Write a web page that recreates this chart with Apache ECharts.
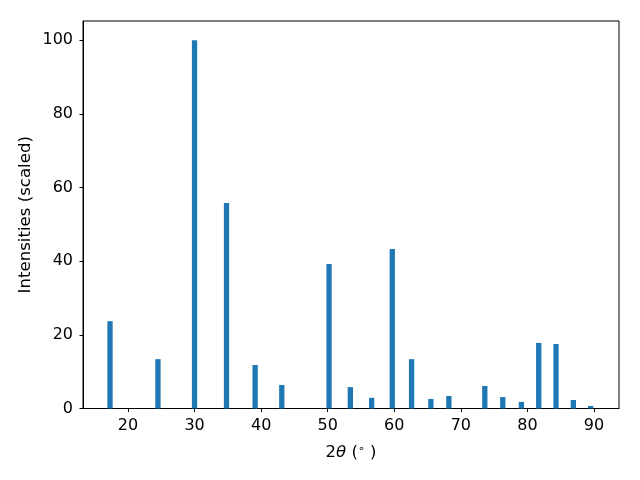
<!DOCTYPE html>
<html>
<head>
<meta charset="utf-8">
<script src="https://cdn.jsdelivr.net/npm/echarts@6/dist/echarts.min.js"></script>
<style>html,body{margin:0;padding:0;background:#fff}#c{width:640px;height:480px}</style>
</head>
<body>
<div id="c"></div>
<script>
const twoTheta = [17.3, 24.5, 30.0, 34.8, 39.1, 43.1, 50.2, 53.4, 56.6, 59.7, 62.6, 65.5, 68.2, 73.6, 76.3, 79.1, 81.7, 84.3, 86.9, 89.5];
const intensity = [23.7, 13.4, 100, 55.8, 11.8, 6.4, 39.2, 5.8, 2.9, 43.3, 13.4, 2.6, 3.4, 6.1, 3.1, 1.8, 17.8, 17.5, 2.3, 0.7];
const xTicks = [20, 30, 40, 50, 60, 70, 80, 90];
const yTicks = [0, 20, 40, 60, 80, 100];

const font = 'DejaVu Sans';
const chart = echarts.init(document.getElementById('c'), null, {renderer: 'canvas'});
chart.setOption({
  animation: false,
  grid: {left: 83, right: 21, top: 21, bottom: 71.5, show: true, borderColor: '#000', borderWidth: 1, backgroundColor: 'transparent'},
  xAxis: {
    type: 'value', min: 13.24, max: 93.76,
    axisLine: {show: true, lineStyle: {color: '#000', width: 1}},
    axisTick: {show: true, length: 3.5, lineStyle: {color: '#000'}, customValues: xTicks},
    axisLabel: {customValues: xTicks, color: '#000', fontFamily: font, fontSize: 16, margin: 9},
    splitLine: {show: false},
    name: '{n|2}{i|θ}{n| (}{s|∘}{n| )}',
    nameLocation: 'middle', nameGap: 35, nameMoveOverlap: false,
    nameTextStyle: {
      rich: {
        n: {fontFamily: font, fontSize: 16.5, color: '#000'},
        i: {fontFamily: font, fontSize: 16.5, fontStyle: 'italic', color: '#000'},
        s: {fontFamily: font, fontSize: 11, color: '#000', verticalAlign: 'top', padding: [0, 0, 7, 0]}
      }
    }
  },
  yAxis: {
    type: 'value', min: 0, max: 105.2,
    axisLine: {show: true, lineStyle: {color: '#000', width: 1}},
    axisTick: {show: true, length: 3.5, lineStyle: {color: '#000'}, customValues: yTicks},
    axisLabel: {customValues: yTicks, color: '#000', fontFamily: font, fontSize: 16, margin: 10},
    splitLine: {show: false},
    name: 'Intensities (scaled)',
    nameLocation: 'middle', nameGap: 49, nameMoveOverlap: false,
    nameTextStyle: {fontFamily: font, fontSize: 16.6, color: '#000'}
  },
  series: [{
    type: 'bar',
    data: twoTheta.map((x, i) => [x, intensity[i]]),
    barWidth: 5.3,
    itemStyle: {color: '#1f77b4'}
  }]
});
</script>
</body>
</html>
